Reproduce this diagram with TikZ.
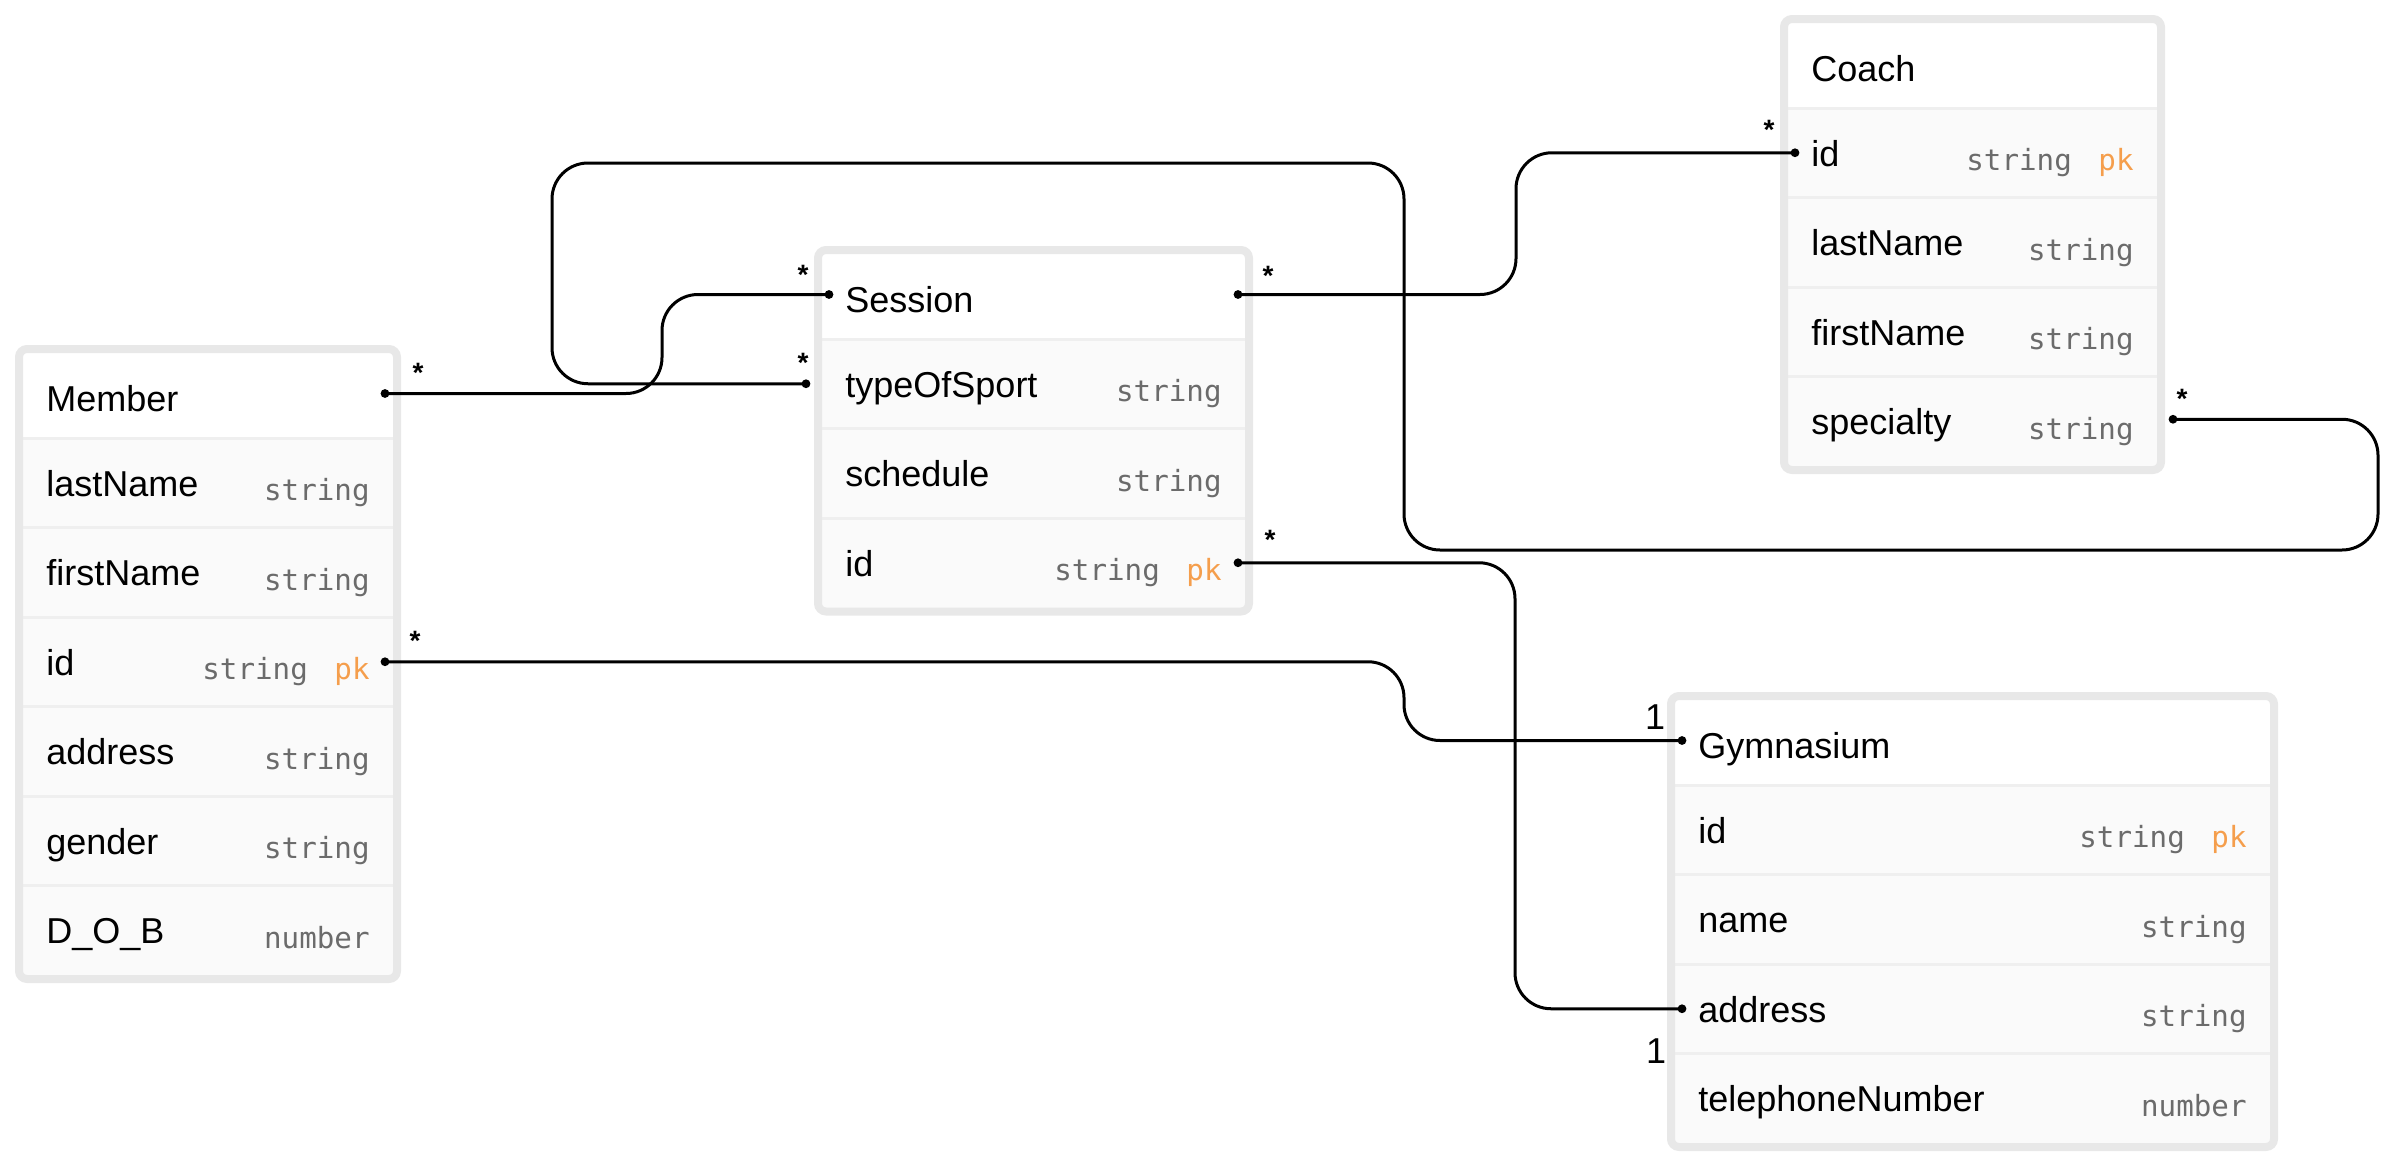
\documentclass[tikz,border=0pt]{standalone}
\usepackage{fontspec}
\setmainfont{Liberation Sans}
\newfontfamily\monof{DejaVu Sans Mono}
\usetikzlibrary{calc}
\definecolor{framegray}{HTML}{E8E8E8}
\definecolor{rowgray}{HTML}{FAFAFA}
\definecolor{sepgray}{HTML}{EFEFEF}
\definecolor{typegray}{HTML}{6B6B6B}
\definecolor{pkorange}{HTML}{F59E4C}
\newcommand\pkmark{\hspace{4.5pt}\textcolor{pkorange}{pk}}
\begin{document}
\begin{tikzpicture}[x=0.5pt,y=-0.5pt,
  hdrrow/.style={anchor=north west, inner sep=0pt, outer sep=0pt, draw=none, fill=white, minimum height=42.5pt},
  fldrow/.style={hdrrow, fill=rowgray, minimum height=44.75pt},
  nmtext/.style={anchor=base west, inner sep=0pt, font=\fontsize{18pt}{21pt}\selectfont},
  hdtext/.style={nmtext},
  tytext/.style={anchor=base east, inner sep=0pt, text=typegray, font=\monof\fontsize{14.6pt}{17pt}\selectfont},
  tableframe/.style={draw=framegray, line width=4pt, rounded corners=4pt},
  sepline/.style={draw=sepgray, line width=1.5pt},
  conn/.style={draw=black, line width=1.5pt, rounded corners=18pt},
  enddot/.style={fill=black},
  card/.style={anchor=base, inner sep=0pt, font=\bfseries\fontsize{14pt}{16pt}\selectfont},
  one/.style={anchor=base, inner sep=0pt, font=\fontsize{18pt}{21pt}\selectfont}
]
\useasboundingbox (0,0) rectangle (2399,1167);

% ---------- Member ----------
\node[hdrrow, minimum width=185pt] (m0) at (23,353) {};
\node[fldrow, minimum width=185pt] (m1) at (23,438) {};
\node[fldrow, minimum width=185pt] (m2) at (23,527.5) {};
\node[fldrow, minimum width=185pt] (m3) at (23,617) {};
\node[fldrow, minimum width=185pt] (m4) at (23,706.5) {};
\node[fldrow, minimum width=185pt] (m5) at (23,796) {};
\node[fldrow, minimum width=185pt] (m6) at (23,885.5) {};
\foreach \r in {m1,m2,m3,m4,m5,m6} \draw[sepline] (\r.north west) -- (\r.north east);
\node[hdtext] (m0n) at ($(m0.west)+(23,16)$) {Member};
\node[nmtext] (m1n) at ($(m1.west)+(23,13.5)$) {lastName};
\node[tytext] (m1t) at ($(m1.east)+(-23,18)$) {string};
\node[nmtext] (m2n) at ($(m2.west)+(23,13.5)$) {firstName};
\node[tytext] (m2t) at ($(m2.east)+(-23,18)$) {string};
\node[nmtext] (m3n) at ($(m3.west)+(23,13.5)$) {id};
\node[tytext] (m3t) at ($(m3.east)+(-23,18)$) {string\ \pkmark};
\node[nmtext] (m4n) at ($(m4.west)+(23,13.5)$) {address};
\node[tytext] (m4t) at ($(m4.east)+(-23,18)$) {string};
\node[nmtext] (m5n) at ($(m5.west)+(23,13.5)$) {gender};
\node[tytext] (m5t) at ($(m5.east)+(-23,18)$) {string};
\node[nmtext] (m6n) at ($(m6.west)+(23,13.5)$) {D\_O\_B};
\node[tytext] (m6t) at ($(m6.east)+(-23,18)$) {number};
\draw[tableframe] ($(m0.north west)+(-4,-4)$) rectangle ($(m6.south east)+(4,4)$);

% ---------- Session ----------
\node[hdrrow, minimum width=211.5pt] (s0) at (822,254) {};
\node[fldrow, minimum width=211.5pt] (s1) at (822,339) {};
\node[fldrow, minimum width=211.5pt] (s2) at (822,428.5) {};
\node[fldrow, minimum width=211.5pt] (s3) at (822,518) {};
\foreach \r in {s1,s2,s3} \draw[sepline] (\r.north west) -- (\r.north east);
\node[hdtext] (s0n) at ($(s0.west)+(23,16)$) {Session};
\node[nmtext] (s1n) at ($(s1.west)+(23,13.5)$) {typeOfSport};
\node[tytext] (s1t) at ($(s1.east)+(-23,18)$) {string};
\node[nmtext] (s2n) at ($(s2.west)+(23,13.5)$) {schedule};
\node[tytext] (s2t) at ($(s2.east)+(-23,18)$) {string};
\node[nmtext] (s3n) at ($(s3.west)+(23,13.5)$) {id};
\node[tytext] (s3t) at ($(s3.east)+(-23,18)$) {string\ \pkmark};
\draw[tableframe] ($(s0.north west)+(-4,-4)$) rectangle ($(s3.south east)+(4,4)$);

% ---------- Coach ----------
\node[hdrrow, minimum width=184.5pt] (c0) at (1788,23) {};
\node[fldrow, minimum width=184.5pt] (c1) at (1788,108) {};
\node[fldrow, minimum width=184.5pt] (c2) at (1788,197.5) {};
\node[fldrow, minimum width=184.5pt] (c3) at (1788,287) {};
\node[fldrow, minimum width=184.5pt] (c4) at (1788,376.5) {};
\foreach \r in {c1,c2,c3,c4} \draw[sepline] (\r.north west) -- (\r.north east);
\node[hdtext] (c0n) at ($(c0.west)+(23,16)$) {Coach};
\node[nmtext] (c1n) at ($(c1.west)+(23,13.5)$) {id};
\node[tytext] (c1t) at ($(c1.east)+(-23,18)$) {string\ \pkmark};
\node[nmtext] (c2n) at ($(c2.west)+(23,13.5)$) {lastName};
\node[tytext] (c2t) at ($(c2.east)+(-23,18)$) {string};
\node[nmtext] (c3n) at ($(c3.west)+(23,13.5)$) {firstName};
\node[tytext] (c3t) at ($(c3.east)+(-23,18)$) {string};
\node[nmtext] (c4n) at ($(c4.west)+(23,13.5)$) {specialty};
\node[tytext] (c4t) at ($(c4.east)+(-23,18)$) {string};
\draw[tableframe] ($(c0.north west)+(-4,-4)$) rectangle ($(c4.south east)+(4,4)$);

% ---------- Gymnasium ----------
\node[hdrrow, minimum width=297.5pt] (g0) at (1675,700) {};
\node[fldrow, minimum width=297.5pt] (g1) at (1675,785) {};
\node[fldrow, minimum width=297.5pt] (g2) at (1675,874.5) {};
\node[fldrow, minimum width=297.5pt] (g3) at (1675,964) {};
\node[fldrow, minimum width=297.5pt] (g4) at (1675,1053.5) {};
\foreach \r in {g1,g2,g3,g4} \draw[sepline] (\r.north west) -- (\r.north east);
\node[hdtext] (g0n) at ($(g0.west)+(23,16)$) {Gymnasium};
\node[nmtext] (g1n) at ($(g1.west)+(23,13.5)$) {id};
\node[tytext] (g1t) at ($(g1.east)+(-23,18)$) {string\ \pkmark};
\node[nmtext] (g2n) at ($(g2.west)+(23,13.5)$) {name};
\node[tytext] (g2t) at ($(g2.east)+(-23,18)$) {string};
\node[nmtext] (g3n) at ($(g3.west)+(23,13.5)$) {address};
\node[tytext] (g3t) at ($(g3.east)+(-23,18)$) {string};
\node[nmtext] (g4n) at ($(g4.west)+(23,13.5)$) {telephoneNumber};
\node[tytext] (g4t) at ($(g4.east)+(-23,18)$) {number};
\draw[tableframe] ($(g0.north west)+(-4,-4)$) rectangle ($(g4.south east)+(4,4)$);

% ---------- connector end points ----------
\coordinate (mHd) at ($(m0.east)+(-8,-2)$);
\coordinate (mId) at ($(m3.east)+(-8,0)$);
\coordinate (sHl) at ($(s0.west)+(7,-2)$);
\coordinate (sHr) at ($(s0.east)+(-7,-2)$);
\coordinate (sTl) at ($(s1.west)+(-16,0)$);
\coordinate (sIr) at ($(s3.east)+(-7,0)$);
\coordinate (cId) at ($(c1.west)+(7,0)$);
\coordinate (cSr) at ($(c4.east)+(16,-2)$);
\coordinate (gHl) at ($(g0.west)+(7,-2)$);
\coordinate (gAl) at ($(g3.west)+(7,0)$);
% bends
\coordinate (k1) at (662,0);
\coordinate (k2a) at (552,163);
\coordinate (k2b) at (1404,550);
\coordinate (k2c) at (2378,550);
\coordinate (k3) at (1516,0);
\coordinate (k4) at (1515,0);
\coordinate (k5) at (1404,0);

% ---------- connectors ----------
\draw[conn] (mHd) -- (mHd -| k1) -- (sHl -| k1) -- (sHl);
\draw[conn] (sTl) -- (sTl -| k2a) -- (k2a) -- (k2a -| k2b) -- (k2b) -- (k2c) -- (cSr -| k2c) -- (cSr);
\draw[conn] (sHr) -- (sHr -| k3) -- (cId -| k3) -- (cId);
\draw[conn] (sIr) -- (sIr -| k4) -- (gAl -| k4) -- (gAl);
\draw[conn] (mId) -- (mId -| k5) -- (gHl -| k5) -- (gHl);

\foreach \p in {mHd,mId,sHl,sHr,sTl,sIr,cId,cSr,gHl,gAl} \fill[enddot] (\p) circle (2.2pt);

% ---------- cardinalities ----------
\node[card] (l1) at ($(mHd)+(33,-11)$) {*};
\node[card] (l2) at ($(sHl)+(-26,-10.5)$) {*};
\node[card] (l3) at ($(sTl)+(-3,-11)$) {*};
\node[card] (l4) at ($(sHr)+(30,-9.5)$) {*};
\node[card] (l5) at ($(cId)+(-26,-13)$) {*};
\node[card] (l6) at ($(cSr)+(9,-11)$) {*};
\node[card] (l7) at ($(sIr)+(32,-13)$) {*};
\node[card] (l8) at ($(mId)+(30,-11)$) {*};
\node[one] (o1) at ($(gHl)+(-27,-11.5)$) {1};
\node[one] (o2) at ($(gAl)+(-26,55)$) {1};
\end{tikzpicture}
\end{document}
